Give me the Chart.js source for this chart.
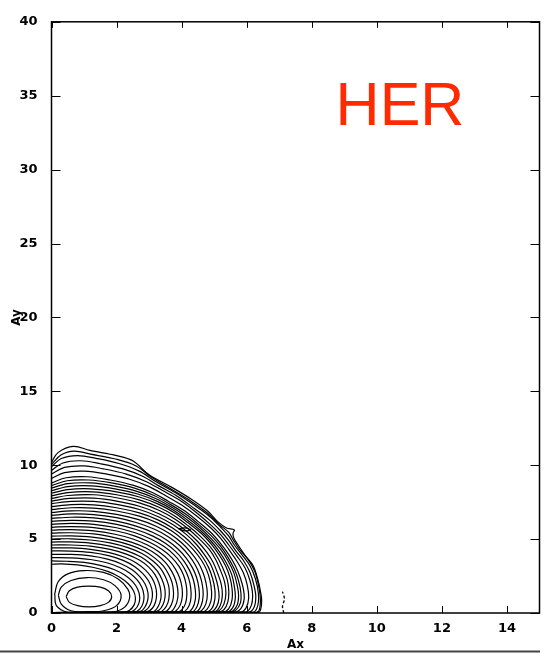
<!DOCTYPE html>
<html lang="en">
<head>
  <meta charset="UTF-8">
  <title>Ax / Ay contours</title>
  <script src="https://cdn.jsdelivr.net/npm/chart.js@4.4.1/dist/chart.umd.min.js"></script>
  <style>
    html, body { margin: 0; padding: 0; background: #fff; }
    canvas { display: block; }
  </style>
</head>
<body>
  <canvas id="contours" width="560" height="654"></canvas>
  <script>
    // axis ticks
    const xTicks = [0, 2, 4, 6, 8, 10, 12, 14];
    const yTicks = [0, 5, 10, 15, 20, 25, 30, 35, 40];
    const label = 'HER';

    // contour lines, flat x,y pairs, outermost first
    const c01 = [0,10.2, 0.2,10.85, 0.67,11.27, 1.18,11.0, 2.0,10.65, 2.5,10.3, 3.0,9.35, 3.7,8.5, 4.3,7.7, 4.8,6.9, 5.1,6.2, 5.38,5.75, 5.62,5.62, 5.58,5.4, 5.6,5.1, 5.72,4.65, 5.95,3.9, 6.2,3.2, 6.35,2.2, 6.42,1.5, 6.46,0.85, 6.4,0.1, 6.2,0.03, 0,0.03];
    const c02 = [0,10.05, 0.3,10.7, 0.7,10.95, 1.2,10.75, 2.0,10.4, 2.6,9.95, 3.1,9.15, 3.7,8.35, 4.3,7.55, 4.8,6.75, 5.15,6.0, 5.45,5.45, 5.6,4.9, 5.78,4.3, 6.05,3.6, 6.25,2.8, 6.36,1.9, 6.42,0.9, 6.36,0.1, 6.1,0.03, 0,0.03];
    const c03 = [0,9.9, 0.3,10.45, 0.8,10.65, 1.4,10.45, 2.1,10.1, 2.7,9.6, 3.2,8.9, 3.8,8.15, 4.35,7.35, 4.85,6.55, 5.2,5.8, 5.45,5.2, 5.62,4.6, 5.85,3.95, 6.1,3.2, 6.27,2.3, 6.36,1.3, 6.34,0.5, 6.2,0.06, 0,0.03];
    const c04 = [0,9.65, 0.35,10.15, 0.9,10.3, 1.5,10.1, 2.2,9.75, 2.8,9.25, 3.3,8.6, 3.9,7.85, 4.4,7.05, 4.85,6.3, 5.2,5.55, 5.45,4.9, 5.65,4.25, 5.9,3.55, 6.1,2.75, 6.22,1.9, 6.28,1.1, 6.22,0.35, 6.05,0.05, 0,0.03];
    const c05 = [0,9.4, 0.4,9.85, 1.0,9.95, 1.6,9.75, 2.3,9.4, 2.9,8.9, 3.4,8.3, 4.0,7.55, 4.45,6.8, 4.85,6.05, 5.2,5.3, 5.45,4.6, 5.7,3.85, 5.95,3.05, 6.1,2.2, 6.18,1.3, 6.14,0.5, 5.95,0.06, 0,0.03];
    const c06 = [0,9.1, 0.4,9.5, 1.0,9.6, 1.7,9.4, 2.4,9.05, 3.0,8.55, 3.5,7.95, 4.0,7.3, 4.5,6.5, 4.9,5.75, 5.2,5.05, 5.45,4.3, 5.7,3.5, 5.9,2.7, 6.02,1.85, 6.06,1.0, 5.98,0.35, 5.8,0.05, 0,0.03];
    const c07 = [0,8.8, 0.45,9.15, 1.1,9.22, 1.8,9.0, 2.5,8.65, 3.1,8.15, 3.6,7.55, 4.1,6.9, 4.5,6.2, 4.9,5.45, 5.2,4.7, 5.45,3.95, 5.65,3.2, 5.8,2.4, 5.9,1.6, 5.92,0.9, 5.82,0.3, 5.6,0.05, 0,0.03];
    const b07 = [0,8.62, 0.48,8.95, 1.15,9.0, 1.85,8.8, 2.55,8.45, 3.15,7.95, 3.65,7.35, 4.12,6.7, 4.52,6.0, 4.9,5.25, 5.2,4.5, 5.43,3.75, 5.62,2.97, 5.75,2.17, 5.82,1.4, 5.81,0.7, 5.66,0.18, 5.45,0.05, 0,0.03];
    const c08 = [0,8.45, 0.5,8.75, 1.2,8.8, 1.9,8.6, 2.6,8.25, 3.2,7.75, 3.7,7.15, 4.15,6.5, 4.55,5.8, 4.9,5.05, 5.2,4.3, 5.42,3.55, 5.6,2.75, 5.7,1.95, 5.75,1.2, 5.7,0.5, 5.5,0.08, 0,0.03];
    const b08 = [0,8.27, 0.5,8.55, 1.2,8.6, 1.95,8.4, 2.65,8.05, 3.25,7.55, 3.75,6.95, 4.17,6.3, 4.57,5.6, 4.9,4.87, 5.17,4.12, 5.38,3.37, 5.54,2.6, 5.62,1.8, 5.65,1.05, 5.58,0.4, 5.38,0.06, 0,0.03];
    const c09 = [0,8.1, 0.5,8.35, 1.2,8.4, 2.0,8.2, 2.7,7.85, 3.3,7.35, 3.8,6.75, 4.2,6.1, 4.6,5.4, 4.9,4.7, 5.15,3.95, 5.35,3.2, 5.48,2.45, 5.55,1.65, 5.55,0.9, 5.45,0.3, 5.25,0.05, 0,0.03];
    const b09 = [0,7.92, 0.5,8.15, 1.25,8.2, 2.0,8.0, 2.7,7.65, 3.3,7.15, 3.8,6.55, 4.2,5.9, 4.57,5.2, 4.87,4.5, 5.1,3.77, 5.27,3.02, 5.4,2.27, 5.45,1.47, 5.42,0.75, 5.3,0.22, 5.1,0.05, 0,0.03];
    const c10 = [0,7.75, 0.5,7.95, 1.3,8.0, 2.0,7.8, 2.7,7.45, 3.3,6.95, 3.8,6.35, 4.2,5.7, 4.55,5.0, 4.85,4.3, 5.05,3.6, 5.2,2.85, 5.32,2.1, 5.36,1.3, 5.3,0.6, 5.15,0.15, 4.95,0.04, 0,0.03];
    const b10 = [0,7.57, 0.55,7.75, 1.3,7.77, 2.0,7.57, 2.7,7.22, 3.3,6.72, 3.77,6.15, 4.17,5.5, 4.5,4.82, 4.77,4.12, 4.97,3.42, 5.11,2.67, 5.22,1.92, 5.25,1.17, 5.19,0.52, 5.02,0.1, 0,0.03];
    const c11 = [0,7.4, 0.6,7.55, 1.3,7.55, 2.0,7.35, 2.7,7.0, 3.3,6.5, 3.75,5.95, 4.15,5.3, 4.45,4.65, 4.7,3.95, 4.9,3.25, 5.03,2.5, 5.12,1.75, 5.15,1.05, 5.08,0.45, 4.9,0.08, 0,0.03];
    const b11 = [0,7.2, 0.6,7.33, 1.3,7.32, 2.0,7.12, 2.7,6.77, 3.27,6.3, 3.72,5.75, 4.1,5.12, 4.4,4.47, 4.65,3.77, 4.83,3.07, 4.95,2.35, 5.02,1.6, 5.02,0.92, 4.94,0.35, 4.75,0.06, 0,0.03];
    const c12 = [0,7.0, 0.6,7.12, 1.3,7.1, 2.0,6.9, 2.7,6.55, 3.25,6.1, 3.7,5.55, 4.05,4.95, 4.35,4.3, 4.6,3.6, 4.77,2.9, 4.87,2.2, 4.92,1.45, 4.9,0.8, 4.78,0.25, 4.6,0.05, 0,0.03];
    const b12 = [0,6.8, 0.6,6.91, 1.3,6.88, 2.0,6.67, 2.65,6.33, 3.2,5.89, 3.65,5.35, 4.0,4.75, 4.28,4.1, 4.51,3.42, 4.66,2.72, 4.75,2.02, 4.79,1.3, 4.75,0.65, 4.62,0.18, 4.45,0.05, 0,0.03];
    const c13 = [0,6.6, 0.6,6.7, 1.3,6.66, 2.0,6.45, 2.6,6.12, 3.15,5.68, 3.6,5.15, 3.95,4.55, 4.22,3.9, 4.42,3.25, 4.56,2.55, 4.64,1.85, 4.66,1.15, 4.6,0.5, 4.45,0.1, 0,0.03];
    const b13 = [0,6.4, 0.6,6.48, 1.3,6.44, 2.0,6.22, 2.6,5.88, 3.12,5.45, 3.55,4.93, 3.88,4.35, 4.14,3.72, 4.33,3.07, 4.46,2.4, 4.53,1.7, 4.54,1.02, 4.47,0.42, 4.32,0.08, 0,0.03];
    const c14 = [0,6.2, 0.6,6.27, 1.3,6.22, 2.0,6.0, 2.6,5.65, 3.1,5.22, 3.5,4.72, 3.82,4.15, 4.06,3.55, 4.24,2.9, 4.36,2.25, 4.42,1.55, 4.42,0.9, 4.34,0.35, 4.18,0.06, 0,0.03];
    const b14 = [0,6.0, 0.6,6.06, 1.3,6.0, 2.0,5.77, 2.57,5.43, 3.05,5.01, 3.45,4.51, 3.76,3.95, 3.99,3.35, 4.15,2.72, 4.25,2.07, 4.29,1.4, 4.27,0.77, 4.17,0.27, 4.02,0.05, 0,0.03];
    const c15 = [0,5.8, 0.6,5.85, 1.3,5.78, 2.0,5.55, 2.55,5.22, 3.0,4.8, 3.4,4.3, 3.7,3.75, 3.92,3.15, 4.06,2.55, 4.14,1.9, 4.16,1.25, 4.12,0.65, 4.0,0.2, 3.85,0.05, 0,0.03];
    const b15 = [0,5.6, 0.6,5.64, 1.3,5.56, 1.95,5.33, 2.5,5.01, 2.95,4.6, 3.32,4.11, 3.61,3.56, 3.81,2.97, 3.94,2.37, 4.01,1.75, 4.02,1.12, 3.96,0.55, 3.83,0.15, 3.7,0.05, 0,0.03];
    const c16 = [0,5.4, 0.6,5.43, 1.3,5.35, 1.9,5.12, 2.45,4.8, 2.9,4.4, 3.25,3.92, 3.52,3.38, 3.7,2.8, 3.82,2.2, 3.88,1.6, 3.88,1.0, 3.8,0.45, 3.65,0.1, 0,0.03];
    const b16 = [0,5.2, 0.6,5.22, 1.25,5.14, 1.85,4.93, 2.4,4.61, 2.84,4.21, 3.17,3.73, 3.43,3.2, 3.6,2.62, 3.71,2.02, 3.75,1.42, 3.73,0.85, 3.63,0.35, 3.48,0.08, 0,0.03];
    const c17 = [0,5.0, 0.6,5.02, 1.2,4.94, 1.8,4.74, 2.35,4.42, 2.78,4.02, 3.1,3.55, 3.35,3.02, 3.5,2.45, 3.6,1.85, 3.62,1.25, 3.58,0.7, 3.46,0.25, 3.3,0.05, 0,0.03];
    const b17 = [0,4.8, 0.6,4.81, 1.2,4.73, 1.8,4.52, 2.32,4.2, 2.74,3.8, 3.04,3.33, 3.26,2.81, 3.4,2.25, 3.48,1.68, 3.49,1.1, 3.43,0.58, 3.3,0.18, 3.12,0.05, 0,0.03];
    const c18 = [0,4.6, 0.6,4.6, 1.2,4.52, 1.8,4.3, 2.3,3.98, 2.7,3.58, 2.98,3.12, 3.18,2.6, 3.3,2.05, 3.36,1.5, 3.36,0.95, 3.28,0.45, 3.12,0.1, 0,0.03];
    const b18 = [0,4.4, 0.6,4.4, 1.2,4.31, 1.78,4.09, 2.25,3.77, 2.62,3.37, 2.89,2.9, 3.08,2.39, 3.19,1.85, 3.23,1.3, 3.2,0.76, 3.1,0.32, 2.92,0.07, 0,0.03];
    const c19 = [0,4.2, 0.6,4.19, 1.2,4.1, 1.75,3.88, 2.2,3.56, 2.55,3.15, 2.8,2.68, 2.98,2.18, 3.08,1.65, 3.1,1.1, 3.04,0.58, 2.9,0.18, 2.7,0.04, 0,0.03];
    const b19 = [0,3.97, 0.6,3.96, 1.2,3.86, 1.72,3.64, 2.15,3.32, 2.48,2.92, 2.72,2.45, 2.88,1.95, 2.96,1.42, 2.96,0.9, 2.88,0.43, 2.73,0.12, 0,0.03];
    const c20 = [0,3.75, 0.6,3.73, 1.2,3.62, 1.7,3.4, 2.1,3.08, 2.42,2.68, 2.64,2.22, 2.78,1.72, 2.84,1.2, 2.82,0.7, 2.72,0.28, 2.55,0.06, 0,0.03];
    const b20 = [0,3.52, 0.5,3.5, 1.0,3.42, 1.5,3.22, 1.92,2.94, 2.26,2.55, 2.5,2.1, 2.65,1.61, 2.71,1.1, 2.68,0.62, 2.56,0.22, 2.38,0.05, 0,0.03];
    const c21 = [0,3.3, 0.3,3.32, 0.8,3.25, 1.3,3.08, 1.75,2.8, 2.1,2.42, 2.36,1.98, 2.52,1.5, 2.58,1.0, 2.54,0.55, 2.4,0.18, 2.2,0.04, 0,0.03];
    // closed rings round the peak
    const e3 = [0.1,1.3, 0.2,2.1, 0.5,2.65, 1.0,2.87, 1.6,2.75, 2.05,2.3, 2.35,1.6, 2.4,1.0, 2.25,0.4, 1.9,0.08, 1.2,0.02, 0.5,0.05, 0.15,0.5, 0.1,1.3];
    const e2 = [0.21,1.2, 0.3,1.75, 0.6,2.2, 1.1,2.4, 1.6,2.25, 1.95,1.85, 2.14,1.2, 2.0,0.5, 1.6,0.15, 1.1,0.09, 0.6,0.15, 0.3,0.6, 0.21,1.2];
    const e1 = [0.45,1.12, 0.55,1.5, 0.8,1.75, 1.15,1.82, 1.5,1.75, 1.75,1.5, 1.85,1.12, 1.75,0.72, 1.5,0.5, 1.15,0.42, 0.8,0.5, 0.55,0.72, 0.45,1.12];
    // small loop inside the band and the dashed stub near Ax = 7
    const loop = [3.9,5.7, 4.1,5.76, 4.28,5.62, 4.1,5.56, 3.9,5.7];
    const stub = [7.14,0.0, 7.1,0.45, 7.16,0.95, 7.1,1.45];

    const contours = [c01, c02, c03, c04, c05, c06, c07, b07, c08, b08, c09, b09, c10, b10, c11, b11, c12, b12,
      c13, b13, c14, b14, c15, b15, c16, b16, c17, b17, c18, b18, c19, b19, c20, b20, c21, e3, e2, e1, loop];

    function toPoints(flat) {
      const pts = [];
      for (let i = 0; i < flat.length; i += 2) pts.push({ x: flat[i], y: flat[i + 1] });
      return pts;
    }

    const datasets = contours.map(function (c) {
      return {
        data: toPoints(c),
        showLine: true,
        borderColor: '#000',
        borderWidth: 1.2,
        pointRadius: 0,
        tension: 0.35,
        fill: false
      };
    });
    datasets.push({
      data: toPoints(stub),
      showLine: true,
      borderColor: '#000',
      borderWidth: 1.3,
      borderDash: [3, 2],
      pointRadius: 0,
      tension: 0.3
    });

    // frame with inward tick marks, the big label and the rule under the chart
    const framePlugin = {
      id: 'frame',
      afterDraw(chart) {
        const { ctx, chartArea: a, scales: { x, y } } = chart;
        ctx.save();
        ctx.strokeStyle = '#000';
        ctx.lineWidth = 1.5;
        ctx.strokeRect(a.left, a.top, a.right - a.left, a.bottom - a.top);
        ctx.lineWidth = 1;
        ctx.beginPath();
        xTicks.forEach(function (v) {
          const px = Math.round(x.getPixelForValue(v)) + 0.5;
          ctx.moveTo(px, a.bottom); ctx.lineTo(px, a.bottom - 7);
          ctx.moveTo(px, a.top); ctx.lineTo(px, a.top + 6);
        });
        yTicks.forEach(function (v) {
          const py = Math.round(y.getPixelForValue(v)) + 0.5;
          ctx.moveTo(a.left, py); ctx.lineTo(a.left + 9, py);
          ctx.moveTo(a.right, py); ctx.lineTo(a.right - 9, py);
        });
        ctx.stroke();

        ctx.fillStyle = '#ff2a00';
        ctx.font = '61px "Liberation Sans", Arial, sans-serif';
        ctx.textAlign = 'center';
        ctx.textBaseline = 'alphabetic';
        ctx.fillText(label, 400, 125);

        ctx.strokeStyle = '#444';
        ctx.lineWidth = 2;
        ctx.beginPath();
        ctx.moveTo(0, 651.5);
        ctx.lineTo(540, 651.5);
        ctx.stroke();
        ctx.restore();
      }
    };

    const tickFont = { family: 'DejaVu Sans', size: 13, weight: 'bold' };

    new Chart(document.getElementById('contours'), {
      type: 'scatter',
      data: { datasets: datasets },
      plugins: [framePlugin],
      options: {
        responsive: false,
        animation: false,
        layout: { padding: { top: 13, right: 20.5, left: 0, bottom: 0 } },
        plugins: {
          legend: { display: false },
          tooltip: { enabled: false }
        },
        scales: {
          x: {
            type: 'linear',
            min: 0,
            max: 15,
            afterFit: function (s) { s.height = 41; },
            afterBuildTicks: function (s) { s.ticks = xTicks.map(v => ({ value: v })); },
            grid: { display: false, drawTicks: false },
            border: { display: false },
            ticks: { color: '#000', font: tickFont, padding: 8, maxRotation: 0, autoSkip: false },
            title: {
              display: true,
              text: 'Ax',
              color: '#000',
              font: { family: 'DejaVu Sans', size: 12, weight: 'bold' },
              padding: { top: 0, bottom: 2 }
            }
          },
          y: {
            type: 'linear',
            min: 0,
            max: 40,
            afterFit: function (s) { s.width = 51.5; },
            afterBuildTicks: function (s) { s.ticks = yTicks.map(v => ({ value: v })); },
            grid: { display: false, drawTicks: false },
            border: { display: false },
            ticks: { color: '#000', font: tickFont, padding: 14, autoSkip: false },
            title: {
              display: true,
              text: 'Ay',
              color: '#000',
              font: { family: 'DejaVu Sans', size: 12, weight: 'bold' },
              padding: { top: 10, bottom: 0 }
            }
          }
        }
      }
    });
  </script>
</body>
</html>
